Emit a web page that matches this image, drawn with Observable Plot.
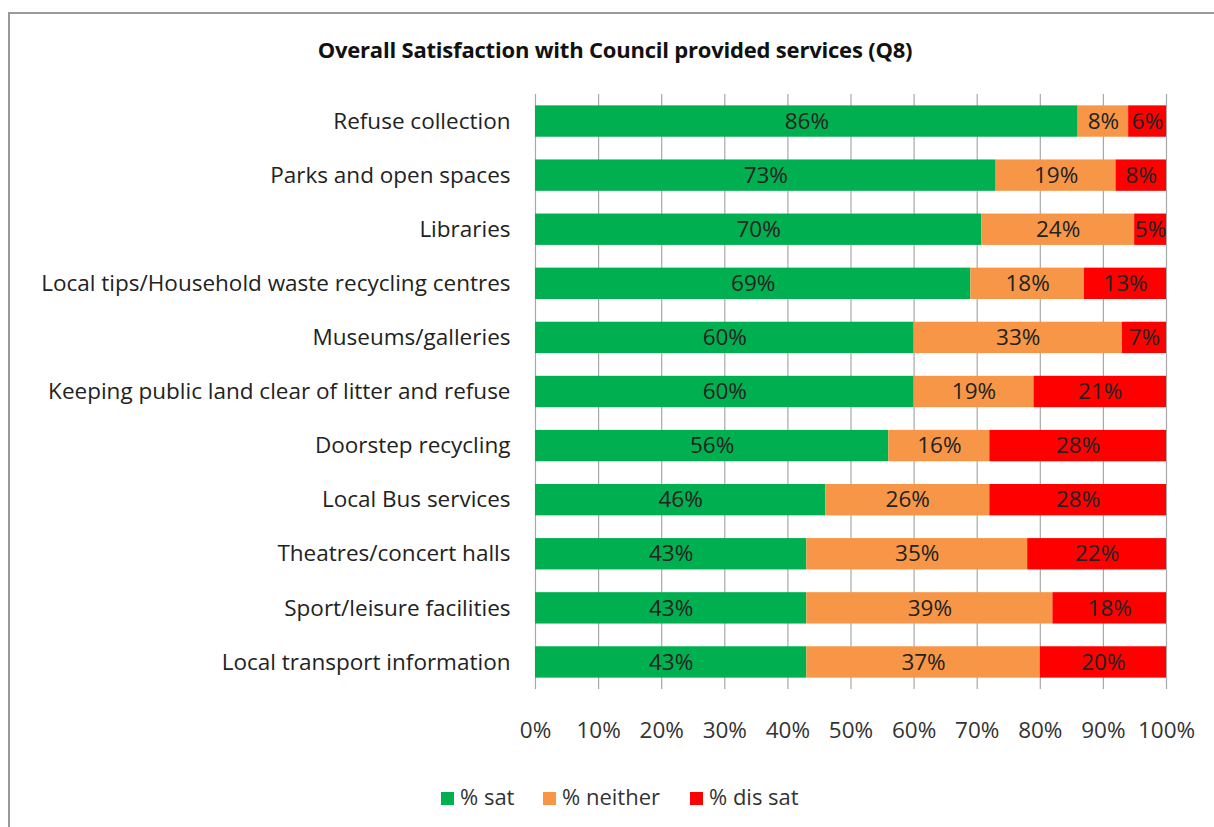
<!DOCTYPE html>
<html>
<head>
<meta charset="utf-8">
<script src="https://cdn.jsdelivr.net/npm/d3@7"></script>
<script src="https://cdn.jsdelivr.net/npm/@observablehq/plot@0.6"></script>
<style>
  html, body { margin: 0; padding: 0; background: #fff; }
  #wrap { position: relative; width: 1214px; height: 827px; overflow: hidden; font-family: "Open Sans", Lato, sans-serif; }
  #frame { position: absolute; left: 8px; top: 12px; width: 1300px; height: 900px; border-left: 2px solid #9a9a9a; border-top: 2px solid #9a9a9a; box-sizing: border-box; }
  #title { position: absolute; top: 34px; left: 0; width: 1230px; text-align: center; font-weight: bold; font-size: 22px; color: #111; letter-spacing: -0.2px; }
  #chart { position: absolute; left: 0; top: 0; }
  #legend { position: absolute; top: 781px; left: 0; width: 1214px; font-size: 22px; color: #333; }
  .item { position: absolute; top: 0; white-space: nowrap; }
  .sw { display: inline-block; width: 13px; height: 13px; margin-right: 6px; vertical-align: 0px; }
</style>
</head>
<body>
<div id="wrap">
  <div id="frame"></div>
  <div id="title">Overall Satisfaction with Council provided services (Q8)</div>
  <div id="chart"></div>
  <div id="legend"></div>
</div>
<script>
const categories = [
  "Refuse collection",
  "Parks and open spaces",
  "Libraries",
  "Local tips/Household waste recycling centres",
  "Museums/galleries",
  "Keeping public land clear of litter and refuse",
  "Doorstep recycling",
  "Local Bus services",
  "Theatres/concert halls",
  "Sport/leisure facilities",
  "Local transport information"
];
const seriesNames = ["% sat", "% neither", "% dis sat"];
const seriesColors = ["#00B050", "#F79646", "#FF0000"];
const sat     = [86, 73, 70, 69, 60, 60, 56, 46, 43, 43, 43];
const neither = [ 8, 19, 24, 18, 33, 19, 16, 26, 35, 39, 37];
const dissat  = [ 6,  8,  5, 13,  7, 21, 28, 28, 22, 18, 20];
const xTicks = [0, 0.1, 0.2, 0.3, 0.4, 0.5, 0.6, 0.7, 0.8, 0.9, 1];

const values = [sat, neither, dissat];
const data = [];
categories.forEach((c, i) => {
  seriesNames.forEach((s, j) => {
    data.push({cat: c, series: s, value: values[j][i]});
  });
});

const stackOpts = {x: "value", y: "cat", z: "series", order: null, offset: "normalize"};
const FONT = "'Open Sans', Lato, sans-serif";

const plot = Plot.plot({
  width: 1214,
  height: 827,
  marginLeft: 535,
  marginRight: 48,
  marginTop: 94,
  marginBottom: 138,
  style: {fontFamily: FONT, fontSize: "20px", color: "#333", background: "transparent"},
  x: {domain: [0, 1], ticks: xTicks, label: null},
  y: {domain: categories, label: null, paddingInner: 0.42, paddingOuter: 0.21, round: false},
  color: {domain: seriesNames, range: seriesColors},
  marks: [
    Plot.gridX(xTicks, {stroke: "#a8a8a8", strokeOpacity: 1, strokeWidth: 1.2}),
    Plot.barX(data, Plot.stackX({...stackOpts, fill: "series"})),
    Plot.textX(data, Plot.stackX({...stackOpts, text: d => d.value + "%", fill: "#222", fontSize: 22.5})),
    Plot.axisY({tickSize: 0, tickPadding: 25, fontSize: 22.5, fill: "#222"}),
    Plot.axisX(xTicks, {tickSize: 0, tickPadding: 33, fontSize: 22.5, fill: "#333", tickFormat: d => Math.round(d * 100) + "%"})
  ]
});
document.getElementById("chart").appendChild(plot);

const legend = document.getElementById("legend");
const legendX = [441, 543, 690];
seriesNames.forEach((s, j) => {
  const it = document.createElement("div");
  it.className = "item";
  it.style.left = legendX[j] + "px";
  it.innerHTML = `<span class="sw" style="background:${seriesColors[j]}"></span>${s}`;
  legend.appendChild(it);
});
</script>
</body>
</html>
